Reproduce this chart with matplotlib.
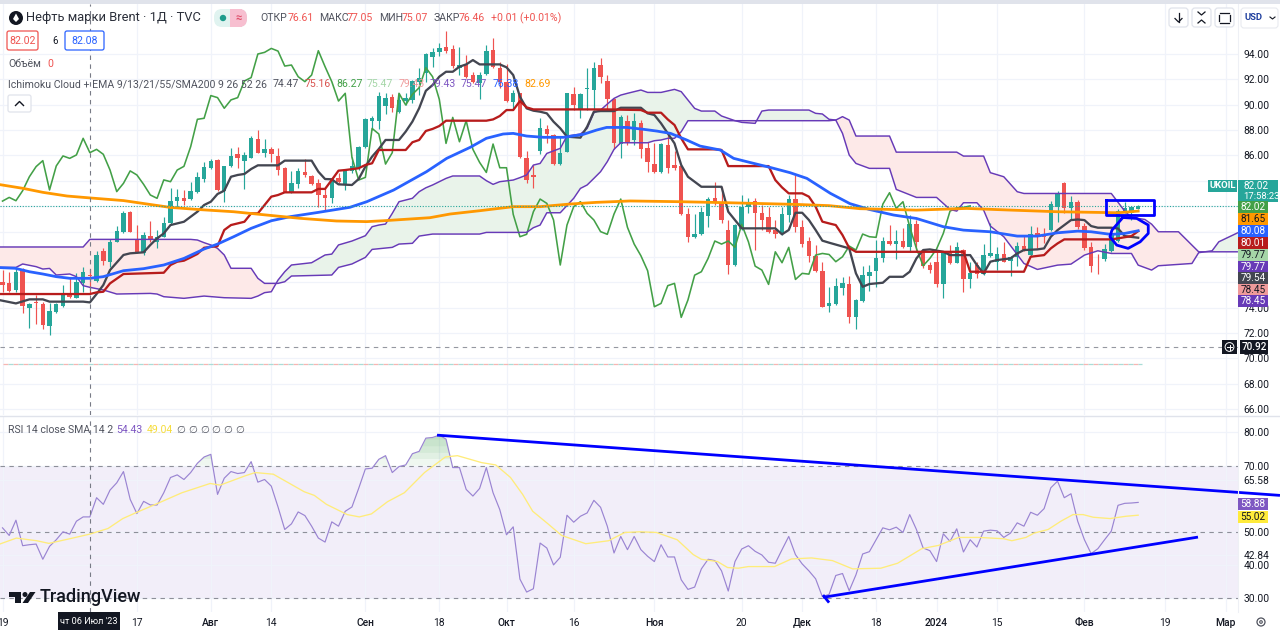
import numpy as np
import matplotlib
matplotlib.use("Agg")
import matplotlib.pyplot as plt
from matplotlib.patches import Rectangle, FancyBboxPatch, Circle, Polygon

plt.rcParams['font.family'] = ['Roboto', 'DejaVu Sans']

W, H = 1280, 630

# daily bars, index 0 is 19 June 2023
opens = [76.04,75.91,75.38,77.02,73.94,74.47,74.28,72.57,73.68,74.12,
         74.99,74.73,75.91,76.61,76.1,78.46,77.62,79.2,80.0,81.54,
         79.33,78.33,79.64,79.2,79.59,80.7,82.43,82.64,82.54,83.14,
         84.14,85.04,85.64,83.22,85.17,86.12,85.56,85.83,87.3,86.22,
         86.51,85.98,84.99,83.15,83.72,84.67,84.41,83.8,82.88,82.62,
         84.2,83.67,84.8,84.99,86.69,88.75,88.72,89.93,90.64,89.46,
         90.3,90.38,91.82,92.48,93.79,94.18,94.58,94.39,92.87,93.18,
         92.34,91.68,92.39,94.31,92.92,91.82,90.24,90.9,85.77,84.43,
         86.35,88.08,87.61,85.32,86.29,90.84,89.63,91.21,91.16,93.13,
         91.89,90.45,86.9,88.74,87.21,88.58,86.56,85.32,84.72,86.82,
         85.24,85.16,81.38,79.54,79.78,81.25,82.61,82.35,80.12,77.36,
         80.2,81.96,82.4,81.43,81.17,80.12,79.8,81.3,82.56,80.33,
         79.28,78.09,76.91,74.12,74.26,75.52,75.86,73.23,74.51,76.51,
         76.88,77.88,79.25,79.01,79.25,78.75,80.56,78.4,77.35,77.56,
         75.83,78.33,77.54,78.54,76.22,77.35,76.64,78.06,77.62,78.19,
         77.7,78.01,78.85,78.14,79.85,79.64,80.11,81.95,83.79,81.87,
         82.35,80.43,78.8,77.93,77.8,78.48,79.25,81.5,81.48,81.8]
highs = [76.96,76.83,77.09,77.09,74.33,75.0,74.47,74.33,74.33,75.78,
         76.44,76.7,77.22,77.05,78.46,78.67,79.41,80.43,81.64,81.59,
         80.51,79.99,80.83,80.12,81.17,83.4,83.33,83.27,83.93,84.72,
         85.51,85.72,85.7,85.17,86.56,86.64,86.3,87.54,88.01,87.27,
         86.7,86.56,85.12,84.8,84.99,85.7,84.46,84.14,83.41,84.25,
         84.59,84.91,85.9,86.75,88.93,89.14,91.03,90.9,90.82,90.9,
         90.9,91.95,92.87,94.05,94.45,94.84,95.84,94.71,94.52,93.92,
         92.6,92.6,94.71,95.23,93.34,93.21,91.16,90.95,86.37,85.24,
         88.92,88.4,87.66,87.48,90.95,91.37,90.9,92.92,93.34,93.66,
         92.34,90.5,89.18,89.18,89.32,88.79,87.08,86.95,86.95,87.61,
         86.37,85.24,81.83,81.38,81.96,82.75,83.93,83.54,80.91,80.56,
         82.88,82.61,82.61,82.09,81.96,80.91,81.91,82.88,84.46,80.91,
         79.59,78.93,77.62,75.65,76.31,76.38,76.49,74.65,77.27,77.35,
         79.33,79.54,80.51,80.11,80.3,81.3,80.9,78.48,77.62,78.4,
         78.46,78.93,79.19,78.59,77.62,77.62,79.01,80.64,78.8,79.19,
         78.06,79.19,79.64,80.43,80.32,80.24,82.43,83.22,83.93,82.8,
         82.48,80.69,79.19,78.22,79.01,79.98,81.74,82.35,82.01,82.08]
lows = [75.26,75.26,75.26,73.6,72.36,72.7,72.28,71.84,73.55,74.07,
        74.73,74.73,75.25,75.07,76.05,77.36,77.2,79.2,79.85,79.93,
        78.28,78.15,79.2,78.67,79.59,80.51,81.96,82.09,82.48,83.01,
        83.93,84.93,83.2,82.36,85.1,84.99,83.36,85.77,86.17,85.85,
        85.51,84.46,83.15,83.07,83.41,84.33,83.67,81.96,81.7,82.23,
        83.8,83.28,84.59,84.85,86.62,88.01,88.09,89.3,89.46,89.32,
        89.98,90.11,90.8,91.82,93.0,93.84,94.1,92.87,92.34,92.08,
        91.74,90.42,92.34,92.87,91.29,90.24,89.66,85.77,83.85,83.46,
        86.11,86.95,85.24,85.24,86.24,89.58,88.92,89.58,89.58,91.68,
        89.58,86.48,85.77,86.82,86.82,85.77,84.72,84.59,84.64,84.59,
        84.85,81.3,79.2,79.46,79.72,80.38,82.09,80.7,76.62,77.28,
        80.12,81.43,78.54,80.12,79.85,79.46,79.72,80.78,79.99,78.8,
        77.62,76.83,74.02,73.62,74.2,74.99,72.81,72.31,74.41,75.3,
        75.64,77.62,78.93,77.8,78.67,78.4,78.4,77.09,76.7,75.64,
        74.78,77.4,77.48,75.25,75.51,76.35,76.56,78.01,76.96,77.62,
        76.51,77.27,78.48,78.06,78.67,79.06,80.06,80.77,81.43,80.9,
        80.17,78.54,76.83,76.64,77.7,78.4,79.14,81.43,80.9,81.74]
closes = [75.78,75.33,76.83,74.12,74.25,74.33,72.63,73.73,74.25,75.07,
          74.81,75.99,76.83,76.46,78.15,77.67,79.2,80.04,81.43,80.0,
          78.33,79.72,79.38,79.59,80.64,82.4,82.69,82.43,83.22,84.32,
          85.12,85.59,83.28,85.17,85.96,85.77,86.04,87.35,86.22,86.48,
          86.09,84.85,83.15,83.8,84.78,84.46,83.72,82.88,82.62,84.07,
          83.93,84.85,85.14,86.69,88.85,88.93,90.72,90.56,89.72,90.38,
          90.56,91.87,92.14,94.0,94.13,94.44,94.23,93.05,93.13,92.21,
          91.82,92.34,94.26,93.0,91.82,90.29,90.9,85.85,84.06,84.27,
          88.13,87.69,85.32,86.22,90.9,89.98,90.82,91.34,92.92,92.21,
          90.42,86.95,89.0,87.08,88.74,86.48,85.45,84.66,86.9,85.03,
          85.03,81.35,79.59,79.78,81.56,82.56,82.22,80.91,77.36,80.51,
          81.96,82.35,81.43,80.91,79.99,79.78,81.38,82.56,80.33,79.01,
          78.09,76.91,74.07,74.33,75.73,75.91,73.23,74.6,76.56,76.83,
          77.88,79.25,79.01,79.25,78.75,80.56,79.19,77.27,76.96,75.83,
          78.4,77.54,78.75,76.22,76.7,76.64,78.14,78.27,78.19,77.62,
          78.01,78.85,78.54,79.8,79.59,79.54,82.16,83.06,81.82,82.35,
          80.38,78.67,77.3,77.88,78.62,79.85,81.61,81.87,81.9,82.02]

# green lagging line, from bar 0 to bar 144
lagging = [82.4,82.69,82.43,83.22,84.32,
           85.12,85.59,83.28,85.17,85.96,85.77,86.04,87.35,86.22,86.48,
           86.09,84.85,83.15,83.8,84.78,84.46,83.72,82.88,82.62,84.07,
           83.93,84.85,85.14,86.69,88.85,88.93,90.72,90.56,89.72,90.38,
           90.56,91.87,92.14,94.0,94.13,94.44,94.23,93.05,93.13,92.21,
           91.82,92.34,94.26,93.0,91.82,90.29,90.9,85.85,84.06,84.27,
           88.13,87.69,85.32,86.22,90.9,89.98,90.82,91.34,92.92,92.21,
           90.42,86.95,89.0,87.08,88.74,86.48,85.45,84.66,86.9,85.03,
           85.03,81.35,79.59,79.78,81.56,82.56,82.22,80.91,77.36,80.51,
           81.96,82.35,81.43,80.91,79.99,79.78,81.38,82.56,80.33,79.01,
           78.09,76.91,74.07,74.33,75.73,75.91,73.23,74.6,76.56,76.83,
           77.88,79.25,79.01,79.25,78.75,80.56,79.19,77.27,76.96,75.83,
           78.4,77.54,78.75,76.22,76.7,76.64,78.14,78.27,78.19,77.62,
           78.01,78.85,78.54,79.8,79.59,79.54,82.16,83.06,81.82,82.35,
           80.38,78.67,77.3,77.88,78.62,79.85,81.61,81.87,81.9,82.02]

# the other lines as (bar, value) vertices
tenkan = [(-1,74.65),(2,74.33),(4,74.65),(6,74.65),(7,74.47),(12,74.47),(13,74.41),(14,75.07),(15,75.78),(16,76.96),
          (18,78.15),(19,78.28),(21,78.36),(22,78.94),(23,79.46),(24,79.85),(25,80.51),(27,80.77),(28,81.17),(29,81.56),
          (30,82.09),(31,82.35),(32,82.96),(33,83.22),(34,84.32),(35,84.46),(36,84.54),(37,84.93),(38,85.22),(41,85.22),
          (42,85.59),(46,85.59),(47,84.72),(48,84.14),(49,84.12),(50,83.72),(52,83.67),(53,84.14),(54,85.12),(55,85.91),
          (56,86.51),(57,87.22),(59,87.22),(60,87.88),(61,88.67),(62,89.72),(63,91.1),(64,91.55),(65,92.21),(66,92.6),
          (67,92.6),(68,93.0),(69,93.18),(70,93.52),(71,93.18),(74,93.18),(75,92.95),(76,92.34),(77,90.63),(78,89.71),
          (79,89.53),(80,89.45),(81,89.32),(82,88.66),(83,88.14),(84,87.48),(86,87.4),(87,88.27),(88,89.45),(89,89.5),
          (91,89.5),(92,89.76),(95,89.76),(96,89.32),(97,89.19),(98,88.53),(99,87.74),(100,86.95),(101,85.24),(102,84.32),
          (103,83.93),(104,83.53),(107,83.53),(108,81.56),(109,80.91),(110,80.25),(115,80.25),(116,79.78),(117,80.12),(118,81.48),
          (119,81.48),(120,80.91),(121,80.12),(122,79.28),(123,79.12),(126,78.67),(127,76.7),(128,75.64),(129,75.86),(131,75.96),
          (132,76.43),(134,76.43),(135,76.83),(136,77.88),(137,78.54),(138,78.59),(140,78.4),(141,78.14),(144,78.14),(145,77.35),
          (146,76.7),(147,77.62),(148,77.75),(150,77.88),(151,78.27),(152,78.54),(154,78.59),(155,78.67),(156,79.59),(157,80.11),
          (158,80.51),(159,80.9),(160,80.95),(161,80.9),(162,80.43),(163,80.3),(165,80.3),(166,80.24),(167,79.64),(169,79.51)]
kijun = [(-1,75.07),(13,75.07),(14,75.2),(15,75.25),(16,75.91),(18,76.65),(24,76.75),(25,77.36),(26,77.62),(27,77.7),
         (28,77.96),(29,78.23),(30,78.72),(32,78.85),(33,80.12),(34,80.51),(36,80.77),(37,81.43),(38,81.43),(39,82.09),
         (40,82.75),(41,82.88),(42,83.09),(46,83.09),(47,83.36),(48,83.36),(49,84.07),(50,84.8),(51,84.85),(53,84.99),
         (54,85.25),(55,85.38),(56,86.43),(60,86.43),(61,87.04),(62,87.22),(63,87.93),(64,88.09),(65,88.32),(66,88.74),
         (72,88.74),(73,88.84),(74,89.11),(75,89.58),(76,89.58),(77,90.29),(78,89.79),(79,89.63),(90,89.63),(95,89.58),
         (96,89.37),(98,89.37),(99,88.84),(100,88.4),(101,87.35),(102,86.48),(106,86.48),(107,86.43),(108,85.16),(114,85.16),
         (115,84.06),(116,83.48),(117,83.01),(119,83.01),(120,82.75),(121,81.96),(122,80.78),(123,80.64),(124,80.51),(125,79.72),
         (126,78.7),(127,78.4),(143,78.4),(144,76.83),(152,76.83),(153,78.01),(155,78.14),(156,78.67),(157,79.06),(158,79.38),
         (165,79.38),(166,79.46),(168,79.64),(169,80.03)]
lead_a = [(-1,77.17),(2,77.17),(3,77.44),(5,77.23),(6,77.04),(7,77.09),(8,76.57),(10,76.65),(11,76.44),(12,75.73),
          (13,75.6),(15,75.39),(17,75.07),(22,75.12),(23,75.07),(24,74.86),(27,74.73),(30,74.91),(33,74.78),(37,74.73),
          (38,74.91),(39,75.18),(40,75.25),(41,76.17),(42,76.83),(43,77.36),(46,77.54),(48,78.15),(49,78.22),(50,78.94),
          (52,79.25),(54,79.67),(55,80.38),(56,80.51),(57,80.59),(58,81.43),(59,82.35),(61,82.62),(62,83.14),(63,83.45),
          (64,83.67),(65,83.93),(66,84.19),(67,84.38),(71,84.38),(72,84.01),(73,83.72),(74,83.93),(76,84.06),(77,84.25),
          (78,84.46),(79,85.24),(80,85.37),(81,86.16),(83,86.56),(84,87.53),(86,87.69),(87,88.13),(88,89.37),(89,89.58),
          (90,90.05),(91,90.5),(92,90.76),(93,90.9),(95,91.16),(96,90.97),(98,90.97),(100,91.21),(101,91.03),(102,90.37),
          (103,89.71),(104,89.5),(106,89.5),(107,89.11),(109,88.74),(110,88.61),(112,88.53),(113,89.5),(114,89.58),(120,89.58),
          (121,89.32),(122,89.27),(123,88.85),(124,88.79),(125,87.74),(126,86.03),(127,85.37),(129,84.98),(132,84.98),(133,83.32),
          (136,82.69),(139,82.69),(141,81.74),(142,81.61),(143,82.27),(145,82.27),(146,81.69),(147,80.43),(149,79.59),(152,77.48),
          (154,77.01),(157,77.35),(159,77.43),(161,78.14),(163,78.48),(165,78.27),(168,78.27),(169,77.35),(171,76.96),(172,77.3),
          (177,77.48),(178,78.33),(180,78.48),(181,79.19),(185,80.2)]
lead_b = [(-1,78.78),(12,78.78),(13,79.38),(28,79.38),(29,79.33),(30,79.12),(31,78.94),(32,78.67),(33,78.15),(34,77.1),
          (37,77.1),(38,76.31),(39,75.91),(41,75.91),(42,76.04),(43,76.49),(49,76.57),(50,77.17),(52,77.44),(54,77.96),
          (55,78.59),(58,78.75),(59,79.01),(61,79.07),(62,79.64),(64,79.8),(71,79.8),(72,79.93),(78,79.93),(79,80.3),
          (80,80.51),(81,81.48),(83,81.48),(85,82.62),(86,83.4),(87,83.67),(88,84.19),(89,84.72),(90,85.51),(91,86.48),
          (92,87.0),(96,87.0),(97,87.16),(98,87.22),(99,87.35),(100,87.35),(101,87.87),(102,88.74),(123,88.74),(124,88.79),
          (125,89.06),(126,88.79),(127,87.53),(132,87.53),(133,86.26),(142,86.26),(143,85.95),(146,85.95),(147,84.64),(149,84.32),
          (151,83.14),(152,83.0),(165,83.0),(167,81.61),(168,81.11),(170,80.95),(171,80.58),(172,79.98),(175,79.98),(178,78.4),
          (185,78.4)]
ema = [(-1,77.17),(1.9,77.1),(4,76.83),(6,76.65),(8,76.44),(10,76.31),(13,76.31),(15,76.44),(18,76.91),(21,77.07),
       (24,77.36),(27,77.88),(30,78.62),(32,79.01),(34.4,79.59),(37,80.25),(40,80.85),(42.8,81.17),(47,81.51),(51.7,81.91),
       (54.2,82.35),(58.2,83.27),(63.1,84.72),(66.1,85.77),(69.6,86.64),(72,87.35),(74.5,87.69),(76,87.74),(78,87.53),(80.5,87.43),
       (83.5,87.43),(86.4,87.66),(88.4,88.0),(89.9,88.21),(92.9,88.21),(95.4,88.06),(97.4,87.92),(99.4,87.74),(101.8,87.22),(103.8,86.74),
       (106.8,86.43),(108.8,85.77),(111.2,85.45),(114.2,85.06),(117.2,84.64),(119.7,84.19),(123.2,83.01),(126.1,82.2),(129,81.74),(132.6,81.3),
       (136,81.03),(140,80.38),(143,80.11),(147,79.98),(151,79.64),(154,79.64),(157,79.9),(160,80.03),(162,79.98),(165,79.77),
       (167,79.85),(169,80.06)]
sma200 = [(-1,83.75),(3.1,83.4),(6,83.09),(9.6,82.8),(13,82.65),(18,82.44),(21.5,82.17),(25,81.9),(29.6,81.72),(34.4,81.56),
          (39.3,81.3),(44.3,81.04),(49.7,80.83),(54.2,80.78),(56.7,80.85),(63.6,81.09),(66.6,81.38),(71,81.64),(76,81.96),(80,81.96),
          (84.5,82.17),(88.4,82.3),(93.4,82.41),(101,82.35),(108,82.27),(118,82.14),(123,82.04),(127.6,81.8),(136,81.69),(143.5,81.82),
          (150,81.69),(157,81.56),(166,81.48),(169,81.61)]

# RSI per bar and its moving average as vertices
rsi = [51.2,48.9,53.5,45.8,46.1,46.3,41.7,45.6,47.6,50.0,
       49.3,53.2,54.5,54.5,60.3,58.3,62.6,64.8,68.2,59.8,
       55.5,59.2,58.1,58.1,61.8,66.4,67.2,65.8,67.9,70.7,
       72.6,73.4,61.3,66.2,68.2,67.6,67.9,71.2,65.0,65.8,
       63.8,57.5,50.7,52.4,56.0,54.9,51.7,48.1,46.9,53.0,
       51.7,56.2,57.5,63.1,69.0,69.2,71.9,73.0,67.9,69.7,
       70.2,73.6,74.3,78.3,78.5,79.2,78.0,69.4,69.4,62.8,
       60.8,63.1,69.4,61.8,56.7,49.1,51.5,35.7,31.8,32.8,
       46.6,45.1,40.0,42.3,55.0,52.9,54.7,55.7,59.5,57.4,
       51.7,43.6,48.6,44.6,48.6,44.6,42.6,41.0,46.1,42.4,
       42.4,35.5,32.6,33.3,38.8,41.7,41.3,38.2,32.1,41.0,
       44.8,45.8,44.1,43.0,40.8,40.5,44.6,48.6,43.1,40.3,
       38.2,35.8,30.4,31.1,36.8,37.4,32.2,37.0,43.3,44.0,
       47.6,51.2,50.6,51.4,49.8,55.2,50.7,45.1,44.3,41.0,
       49.4,47.1,50.9,43.9,47.6,45.4,50.2,50.5,50.3,48.3,
       49.6,52.7,51.7,55.9,55.0,57.0,63.3,65.3,60.3,61.5,
       53.2,47.6,43.4,44.9,47.6,50.2,58.0,58.6,58.7,58.88]
rsi_ma = [(-0.4,46.3),(2.06,48.1),(5.1,47.3),(6.9,46.5),(10,47.9),(13,49.3),(15.7,51),(17.9,54),(20,55.9),(23,58.5),
          (26.7,61.8),(30.9,64.6),(32.4,64.1),(36.1,66.9),(37.6,67.9),(40.3,67.4),(44.9,62.1),(46.4,61),(48.2,58.3),(51.3,55.2),
          (53.1,54.5),(54.9,55.4),(57.3,59.1),(59.8,61.8),(62.8,67.9),(65.9,72.6),(67.7,73),(71.3,70.9),(73.4,70.2),(75.6,66.4),
          (77.4,61.3),(78.9,56.2),(81,52.7),(83.2,48.9),(86.8,46.4),(90.2,47.3),(92.6,49.8),(94.9,50),(97.3,49.8),(100.4,47.6),
          (102.8,43.1),(104,41.7),(106.4,41),(107.9,39.2),(109.5,39),(111,39.5),(114.9,39.5),(117.4,41.8),(120.4,42.1),(123.5,41.3),
          (126.5,38.8),(130.7,39),(133.2,40.5),(136.8,44.9),(139.3,45.9),(142.3,48.3),(145.3,48.3),(149,47.9),(150.2,47.3),(152.3,48.3),
          (153.5,49.6),(155.6,50.7),(157.5,53.2),(159.3,55.2),(160.8,55.2),(162.3,54.4),(164.8,54),(167.2,54.7),(169,55.02)]

# hand drawn marks on top of the chart
trend_top = [(64.66,79.2),(190.1,61.0)]
trend_bottom = [(122.1,30.2),(177.9,48.4)]
trend_tick = [(122.1,30.9),(123.0,28.6)]
drawn_box = [(164.2,82.49),(171.35,82.49),(171.35,81.3),(164.2,81.3),(164.2,82.49)]
drawn_loop = [(166.6,81.03),(165.1,80.11),(164.8,79.59),(165.8,78.93),(167.5,78.67),(169.3,79.19),(170.5,79.85),(170.5,80.51),(168.8,81.03),(166.6,81.11)]

last_price = 82.02
high_line = 70.92
order_line = 69.55
crosshair_bar = 13

price_ticks = [66,68,70,72,74,76,78,80,82,84,86,88,90,92,94]
hidden_ticks = [76,78,80,82,84]
rsi_ticks = [30,40,42.84,50,65.58,70,80]
time_ticks = [0,20,31,40,54,65,75,85,97,110,119,130,139,148,161,173,182]
time_labels = ['19','17','Авг','14','Сен','18','Окт','16','Ноя','20','Дек','18','2024','15','Фев','19','Мар']
bold_labels = ['Авг','Сен','Окт','Ноя','Дек','2024','Фев','Мар']

badge_labels = ['82.02','81.65','80.08','80.01','79.77','79.77','79.54','78.45','78.45']
badge_rows = [207,219,231,243,255,267,278,290,301]
badge_colors = ['#43a047','#ff9800','#2962ff','#b71c1c','#a5d6a7','#673ab7','#434651','#ef9a9a','#673ab7']
badge_text = ['white','#131722','white','white','#131722','white','white','#131722','white']

ohlc_names = ['ОТКР','МАКС','МИН','ЗАКР']
ohlc_values = ['76.61','77.05','75.07','76.46']
ohlc_x = [260,319,379,434]
ohlc_val_x = [288,347,402,459]

ind_values = ['74.47','75.16','86.27','75.47','79.43','79.43','75.47','76.38','82.69']
ind_x = [273,305,336,367,399,430,461,493,524]
ind_colors = ['#50535e','#d9534f','#43a047','#a5d6a7','#ef9a9a','#7e57c2','#7e57c2','#2962ff','#ff9800']

RED = '#ef5350'
TEAL = '#26a69a'
GRID = '#f0f3fa'
PX0, PXBAR = 2.5, 6.72


def split(points):
    xs, ys = zip(*points)
    return np.array(xs), np.array(ys)


def style_axes(ax):
    for s in ax.spines.values():
        s.set_visible(False)
    ax.set_xlim((0 - PX0) / PXBAR, (1238 - PX0) / PXBAR)
    ax.yaxis.tick_right()
    ax.tick_params(axis='both', length=0, labelsize=7.4, labelcolor='#131722')
    ax.tick_params(axis='y', pad=4)
    ax.set_xticks(time_ticks)
    ax.grid(True, color=GRID, lw=0.9)
    ax.set_axisbelow(True)


fig = plt.figure(figsize=(W / 100, H / 100), dpi=100, facecolor='white')
ax = fig.add_axes([0, (H - 415) / H, 1238 / W, 411 / H])
ax_rsi = fig.add_axes([0, (H - 612) / H, 1238 / W, 196 / H])

# price pane
style_axes(ax)
ax.set_ylim(94 - (415 - 54) / 12.68, 94 - (4 - 54) / 12.68)
ax.set_yticks(price_ticks)
ax.set_yticklabels(['' if t in hidden_ticks else f'{t:.2f}' for t in price_ticks])
ax.set_xticklabels([])

ax_x, a_y = split(lead_a)
bx_x, b_y = split(lead_b)
fine = np.arange(-1, 185.01, 0.05)
a_fine = np.interp(fine, ax_x, a_y)
b_fine = np.interp(fine, bx_x, b_y)
ax.fill_between(fine, a_fine, b_fine, where=a_fine >= b_fine, color='#e9f3ea', lw=0, zorder=1)
ax.fill_between(fine, a_fine, b_fine, where=a_fine < b_fine, color='#fde9e8', lw=0, zorder=1)

bars = np.arange(len(opens))
o, h, l, c = map(np.array, (opens, highs, lows, closes))
up = c >= o
cols = np.where(up, TEAL, RED)
ax.vlines(bars, l, h, colors=cols, lw=0.85, zorder=2)
ax.bar(bars, np.maximum(np.abs(c - o), 0.06), bottom=np.minimum(o, c), width=0.66, color=cols, lw=0, zorder=3)

ax.plot(np.arange(len(lagging)), lagging, color='#43a047', lw=1.15, zorder=4)
ax.plot(ax_x, a_y, color='#673ab7', lw=1.05, zorder=4)
ax.plot(bx_x, b_y, color='#673ab7', lw=1.05, zorder=4)
ax.plot(*split(tenkan), color='#434651', lw=1.65, zorder=5)
ax.plot(*split(kijun), color='#b71c1c', lw=1.65, zorder=5)
ax.plot(*split(ema), color='#2962ff', lw=2.0, zorder=6)
ax.plot(*split(sma200), color='#ff9800', lw=2.0, zorder=6)

ax.axhline(last_price, color=TEAL, lw=0.8, ls=(0, (1, 1.5)), zorder=6)
ax.axhline(high_line, color='#9598a1', lw=0.8, ls=(0, (4, 4)), zorder=2)
ax.plot([0, 169.5], [order_line, order_line], color='#f7b6b2', lw=0.9, ls=(0, (4, 4)), zorder=2)
ax.plot([0, 169.5], [order_line, order_line], color='#a8ddd7', lw=0.9, ls=(4, (4, 4)), zorder=2)
ax.axvline(crosshair_bar, color='#787b86', lw=0.8, ls=(0, (4, 4)), zorder=7)

ax.plot(*split(drawn_box), color='#0000ff', lw=2.0, zorder=8)
ax.plot(*split(drawn_loop), color='#0000ff', lw=2.0, zorder=8)

# rsi pane
style_axes(ax_rsi)
ax_rsi.set_ylim(30 + (598 - 612) / 3.31, 30 + (598 - 416) / 3.31)
ax_rsi.set_yticks(rsi_ticks)
ax_rsi.set_yticklabels([f'{t:.2f}' for t in rsi_ticks])
ax_rsi.set_xticklabels(time_labels)
ax_rsi.tick_params(axis='x', pad=4)
for lab in ax_rsi.get_xticklabels():
    if lab.get_text() in bold_labels:
        lab.set_fontweight('medium')

ax_rsi.axhspan(30, 70, color='#f2eef9', lw=0, zorder=0.5)
for lev in (70, 30, 50):
    ax_rsi.axhline(lev, color='#8d8f99', lw=0.8, ls=(0, (4, 4)), zorder=1)

rsi_fine = np.arange(0, 169.01, 0.05)
rsi_vals = np.interp(rsi_fine, bars, rsi)
for lev in (70, 72, 74, 76, 78):
    ax_rsi.fill_between(rsi_fine, lev, rsi_vals, where=rsi_vals > lev, color='#7dbf87', alpha=0.12, lw=0, zorder=1)

ax_rsi.plot(bars, rsi, color='#9a84d2', lw=0.85, zorder=3)
ax_rsi.plot(*split(rsi_ma), color='#ffec7a', lw=0.95, zorder=3)
ax_rsi.axvline(crosshair_bar, color='#787b86', lw=0.8, ls=(0, (4, 4)), zorder=4)
for seg in (trend_top, trend_bottom, trend_tick):
    ax_rsi.plot(*split(seg), color='#0000ff', lw=2.0, zorder=9, clip_on=False, solid_capstyle='butt')

# interface drawn on top in screen pixels
ui = fig.add_axes([0, 0, 1, 1], facecolor='none', zorder=10)
ui.set_xlim(0, W)
ui.set_ylim(H, 0)
ui.axis('off')


def label(x, y, s, color='#131722', size=7.6, ha='left', **kw):
    ui.text(x, y, s, color=color, fontsize=size, ha=ha, va='center', **kw)


def box(x0, y0, x1, y1, fc, ec='none', lw=0.0, r=1.5, z=2):
    ui.add_patch(FancyBboxPatch((x0 + r, y0 + r), x1 - x0 - 2 * r, y1 - y0 - 2 * r,
                                boxstyle=f'round,pad={r},rounding_size={r}',
                                fc=fc, ec=ec, lw=lw, zorder=z))


# frame
ui.add_patch(Rectangle((0, 0), W, 3.5, fc='#e0e3eb', lw=0))
ui.plot([0, W], [415.5, 415.5], color='#e0e3eb', lw=1)
ui.plot([1238, 1238], [4, 612], color='#eef0f5', lw=0.8, zorder=1)

# header legend
ui.add_patch(Circle((16, 18), 7, fc='#131722', lw=0))
ui.add_patch(Polygon([(16, 13.5), (19, 19), (16, 22), (13, 19)], fc='white', lw=0))
label(26, 18, 'Нефть марки Brent · 1Д · TVC', size=9.3, color='#2a2e39')
box(214, 9, 247, 27, '#e0f3f0', r=8)
ui.add_patch(Rectangle((230, 9), 12, 18, fc='#f7bfd0', lw=0, zorder=3))
box(232, 9, 247, 27, '#f7bfd0', r=8, z=3)
ui.add_patch(Circle((223, 18), 3.2, fc='#1c9c8c', lw=0, zorder=4))
label(238.5, 18, '≈', color='#e0526e', size=8, ha='center', zorder=4, fontweight='bold')
for nm, vl, nx, vx in zip(ohlc_names, ohlc_values, ohlc_x, ohlc_val_x):
    label(nx, 18, nm, color='#50535e')
    label(vx, 18, vl, color='#ef5350')
label(491, 18, '+0.01 (+0.01%)', color='#ef5350')

box(7, 31, 38, 50, 'white', ec='#ef5350', lw=0.9, r=2)
label(22.5, 40.5, '82.02', color='#ef5350', ha='center')
label(55, 41, '6', size=7, ha='center')
box(65, 31, 104, 50, 'white', ec='#2962ff', lw=0.9, r=2)
label(84.5, 40.5, '82.08', color='#2962ff', ha='center')
label(8, 64, 'Объём', color='#50535e')
label(47, 64, '0', color='#ef5350')
label(8, 84, 'Ichimoku Cloud + EMA 9/13/21/55/SMA200 9 26 52 26', color='#50535e')
for vl, vx, vc in zip(ind_values, ind_x, ind_colors):
    label(vx, 84, vl, color=vc)
box(8, 95, 31, 112, 'white', ec='#e0e3eb', lw=0.9, r=2)
ui.plot([15.5, 19.5, 23.5], [105.5, 101.5, 105.5], color='#131722', lw=1)

# rsi legend
label(8, 430, 'RSI 14 close SMA 14 2', color='#50535e')
label(116, 430, '54.43', color='#7e57c2')
label(147, 430, '49.04', color='#f5dc3c')
for nx in (181, 193, 205, 216, 228, 240):
    label(nx, 430, '∅', color='#50535e', size=7.4, ha='center')

# top right buttons
for bx0 in (1169, 1192, 1215):
    box(bx0, 8, bx0 + 19, 27, 'white', ec='#e0e3eb', lw=0.9, r=3)
ui.plot([1178.5, 1178.5], [13, 22], color='#131722', lw=0.9)
ui.plot([1175, 1178.5, 1182], [18.5, 22, 18.5], color='#131722', lw=0.9)
ui.plot([1198, 1201.5, 1205], [12, 15, 12], color='#131722', lw=0.9)
ui.plot([1198, 1201.5, 1205], [23, 20, 23], color='#131722', lw=0.9)
ui.plot([1220, 1229], [12.5, 12.5], color='#131722', lw=0.9)
ui.plot([1220, 1229], [22.5, 22.5], color='#131722', lw=0.9)
ui.plot([1219, 1219], [14.5, 20.5], color='#131722', lw=0.9)
ui.plot([1230, 1230], [14.5, 20.5], color='#131722', lw=0.9)
box(1241, 8, 1278, 28, 'white', ec='#e8eaf0', lw=0.8, r=3)
label(1244.5, 18, 'USD', color='#1f3f9e', size=6.8, fontweight='bold')
ui.plot([1270, 1272.5, 1275], [17, 19, 17], color='#131722', lw=0.8)

# right scale badges
ui.add_patch(Rectangle((1208, 180), 29, 12, fc=TEAL, lw=0, zorder=3))
label(1222.5, 186, 'UKOIL', color='white', size=6.8, ha='center', fontweight='bold', zorder=4)
ui.add_patch(Rectangle((1238, 180), 40, 22, fc=TEAL, lw=0, zorder=3))
label(1243, 186, '82.02', color='white', size=7.2, zorder=4)
label(1243, 196.5, '17:58:23', color='white', size=6.8, zorder=4)
for txt, row, col, tc in zip(badge_labels, badge_rows, badge_colors, badge_text):
    ui.add_patch(Rectangle((1238, row - 6), 29.5, 12, fc=col, lw=0, zorder=3))
    label(1253, row, txt, color=tc, size=7.2, ha='center', zorder=4)
ui.add_patch(Rectangle((1240, 340), 28, 14, fc='#131722', lw=0, zorder=3))
label(1254, 347, '70.92', color='white', size=7.2, ha='center', zorder=4, fontweight='medium')
ui.add_patch(Rectangle((1222, 340), 15, 14, fc='#131722', lw=0, zorder=3))
ui.add_patch(Circle((1229.5, 347), 4.4, fc='none', ec='white', lw=0.7, zorder=4))
ui.plot([1227, 1232], [347, 347], color='white', lw=0.7, zorder=4)
ui.plot([1229.5, 1229.5], [344.5, 349.5], color='white', lw=0.7, zorder=4)
ui.add_patch(Rectangle((1238, 498), 30, 11.5, fc='#7e57c2', lw=0, zorder=3))
label(1253, 503.8, '58.88', color='white', size=7.2, ha='center', zorder=4)
ui.add_patch(Rectangle((1238, 511), 30, 11.5, fc='#ffeb3b', lw=0, zorder=3))
label(1253, 516.8, '55.02', size=7.2, ha='center', zorder=4)

# crosshair date, logo, settings
ui.add_patch(Rectangle((58, 612), 62, 18, fc='#131722', lw=0, zorder=3))
label(89, 622, "чт 06 Июл '23", color='white', size=6.6, ha='center', zorder=4)
ui.add_patch(Polygon([(9, 592), (21, 592), (21, 603), (15, 603), (15, 597), (9, 597)], fc='#131722', lw=0))
ui.add_patch(Circle((25, 594.5), 2.5, fc='#131722', lw=0))
ui.add_patch(Polygon([(30, 592), (35.5, 592), (28, 603), (22.5, 603)], fc='#131722', lw=0))
label(40, 597.5, 'TradingView', size=13, fontweight='medium')
ui.add_patch(Circle((1261, 622), 4, fc='none', ec='#50535e', lw=0.9))
ui.add_patch(Circle((1261, 622), 1.3, fc='none', ec='#50535e', lw=0.8))

fig.savefig('out.png', dpi=100, facecolor='white')
